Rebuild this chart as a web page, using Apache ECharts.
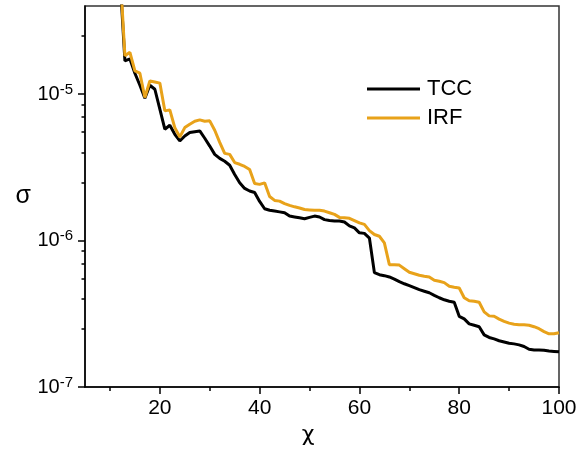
<!DOCTYPE html>
<html>
<head>
<meta charset="utf-8">
<script src="https://cdn.jsdelivr.net/npm/echarts@6/dist/echarts.min.js"></script>
<style>
html,body{margin:0;padding:0;background:#fff;}
#chart{width:588px;height:451px;}
</style>
</head>
<body>
<div id="chart"></div>
<script>
// chi values (x)
var chi = [12,13,14,15,16,17,18,19,20,21,22,23,24,25,26,27,28,29,30,31,32,33,34,35,36,37,38,39,40,
  41,42,43,44,45,46,47,48,49,50,51,52,53,54,55,56,57,58,59,60,61,62,63,64,65,66,67,68,69,70,
  71,72,73,74,75,76,77,78,79,80,81,82,83,84,85,86,87,88,89,90,91,92,93,94,95,96,97,98,99,100];

var tcc = [6.33e-5,1.69e-5,1.74e-5,1.39e-5,1.15e-5,9.39e-6,1.15e-5,1.08e-5,7.89e-6,5.76e-6,6.13e-6,5.32e-6,4.79e-6,5.18e-6,5.47e-6,5.54e-6,5.61e-6,5.0e-6,4.42e-6,
  3.88e-6,3.64e-6,3.48e-6,3.27e-6,2.83e-6,2.48e-6,2.27e-6,2.18e-6,2.13e-6,1.85e-6,
  1.65e-6,1.61e-6,1.59e-6,1.57e-6,1.55e-6,1.47e-6,1.45e-6,1.43e-6,1.41e-6,1.44e-6,
  1.47e-6,1.45e-6,1.39e-6,1.37e-6,1.36e-6,1.36e-6,1.34e-6,1.26e-6,1.22e-6,1.13e-6,
  1.12e-6,1.04e-6,6.04e-7,5.85e-7,5.76e-7,5.64e-7,5.45e-7,5.24e-7,5.07e-7,4.92e-7,
  4.77e-7,4.62e-7,4.51e-7,4.40e-7,4.23e-7,4.07e-7,3.94e-7,3.85e-7,3.79e-7,3.04e-7,
  2.92e-7,2.70e-7,2.64e-7,2.58e-7,2.27e-7,2.18e-7,2.13e-7,2.07e-7,2.03e-7,1.99e-7,
  1.97e-7,1.94e-7,1.89e-7,1.81e-7,1.79e-7,1.79e-7,1.78e-7,1.76e-7,1.75e-7,1.74e-7];

var irf = [7.18e-5,1.83e-5,1.93e-5,1.44e-5,1.39e-5,9.49e-6,1.23e-5,1.21e-5,1.19e-5,7.69e-6,7.81e-6,5.91e-6,5.10e-6,5.91e-6,6.23e-6,6.53e-6,6.67e-6,6.53e-6,6.57e-6,
  5.67e-6,4.69e-6,3.94e-6,3.88e-6,3.41e-6,3.32e-6,3.21e-6,3.06e-6,2.45e-6,2.42e-6,
  2.48e-6,2.0e-6,1.88e-6,1.86e-6,1.79e-6,1.74e-6,1.70e-6,1.67e-6,1.63e-6,1.62e-6,
  1.61e-6,1.61e-6,1.59e-6,1.55e-6,1.51e-6,1.44e-6,1.43e-6,1.42e-6,1.37e-6,1.32e-6,
  1.29e-6,1.17e-6,1.10e-6,1.07e-6,9.64e-7,6.85e-7,6.85e-7,6.80e-7,6.43e-7,6.08e-7,
  5.94e-7,5.80e-7,5.71e-7,5.64e-7,5.36e-7,5.28e-7,5.16e-7,4.88e-7,4.80e-7,4.74e-7,
  4.07e-7,3.88e-7,3.85e-7,3.79e-7,3.26e-7,3.06e-7,3.04e-7,2.91e-7,2.81e-7,2.73e-7,
  2.68e-7,2.66e-7,2.66e-7,2.64e-7,2.58e-7,2.50e-7,2.39e-7,2.31e-7,2.31e-7,2.35e-7];

var xTickLabels = [20,40,60,80,100];
var xMinorTicks = [10,30,50,70,90];
var yTickValues = [1e-7,1e-6,1e-5];
var yTickLabels = ['10{sup|-7}','10{sup|-6}','10{sup|-5}'];
var yMinorTicks = [2.5e-7,4e-7,5.5e-7,7e-7,8.5e-7,2.5e-6,4e-6,5.5e-6,7e-6,8.5e-6,2.5e-5];
var seriesNames = ['TCC','IRF'];

var FONT = '"Liberation Sans", Arial, sans-serif';
var X_MIN = 5, X_MAX = 100, Y_MIN = 1e-7, Y_MAX = 4e-5;

function pairs(xs, ys){ return xs.map(function(x,i){ return [x, ys[i]]; }); }

var chart = echarts.init(document.getElementById('chart'), null, {renderer:'canvas'});
chart.setOption({
  animation:false,
  backgroundColor:'#fff',
  grid:{left:85, right:29, top:6, bottom:64, show:true, borderColor:'#333', borderWidth:1.5, backgroundColor:'transparent'},
  legend:{
    orient:'vertical', left:367, top:78, padding:0,
    icon:'rect', itemWidth:53, itemHeight:3, itemGap:7,
    textStyle:{fontFamily:FONT, fontSize:22, color:'#000', padding:[0,0,0,2]},
    data:seriesNames
  },
  xAxis:[{
    type:'value', min:X_MIN, max:X_MAX,
    name:'χ', nameLocation:'middle', nameGap:26,
    nameTextStyle:{fontFamily:'"DejaVu Sans", sans-serif', fontSize:22, color:'#000', padding:[0,28,0,0]},
    axisLine:{show:true, lineStyle:{color:'#000', width:1.5}},
    axisTick:{show:true, inside:false, length:7, lineStyle:{color:'#000', width:1.5}, customValues:xTickLabels},
    axisLabel:{show:true, margin:11, fontFamily:FONT, fontSize:21, color:'#000', customValues:xTickLabels},
    splitLine:{show:false}
  },{
    type:'value', min:X_MIN, max:X_MAX, position:'bottom',
    axisLine:{show:false},
    axisTick:{show:true, length:4, lineStyle:{color:'#000', width:1.5}, customValues:xMinorTicks},
    axisLabel:{show:false},
    splitLine:{show:false}
  }],
  yAxis:[{
    type:'log', logBase:10, min:Y_MIN, max:Y_MAX,
    name:'σ', nameLocation:'middle', nameGap:54, nameRotate:0,
    nameTextStyle:{fontFamily:FONT, fontSize:25, color:'#000'},
    axisLine:{show:true, lineStyle:{color:'#000', width:1.5}},
    axisTick:{show:true, length:7, lineStyle:{color:'#000', width:1.5}, customValues:yTickValues},
    axisLabel:{
      show:true, margin:12, fontFamily:FONT, fontSize:20, color:'#000',
      customValues:yTickValues,
      formatter:function(v){
        var i = yTickValues.findIndex(function(t){ return Math.abs(Math.log10(t)-Math.log10(v))<1e-6; });
        return i>=0 ? yTickLabels[i] : '';
      },
      rich:{sup:{fontFamily:FONT, fontSize:15, color:'#000', verticalAlign:'top', padding:[0,0,9,0]}}
    },
    splitLine:{show:false}
  },{
    type:'log', logBase:10, min:Y_MIN, max:Y_MAX, position:'left',
    axisLine:{show:false},
    axisTick:{show:true, length:3.5, lineStyle:{color:'#000', width:1.5}, customValues:yMinorTicks},
    axisLabel:{show:false},
    splitLine:{show:false}
  }],
  series:[
    {name:seriesNames[0], type:'line', data:pairs(chi, tcc), symbol:'none', showSymbol:false,
     lineStyle:{color:'#000', width:3}, itemStyle:{color:'#000'}, clip:true, z:2},
    {name:seriesNames[1], type:'line', data:pairs(chi, irf), symbol:'none', showSymbol:false,
     lineStyle:{color:'#E8A21A', width:3}, itemStyle:{color:'#E8A21A'}, clip:true, z:3}
  ]
});
</script>
</body>
</html>
